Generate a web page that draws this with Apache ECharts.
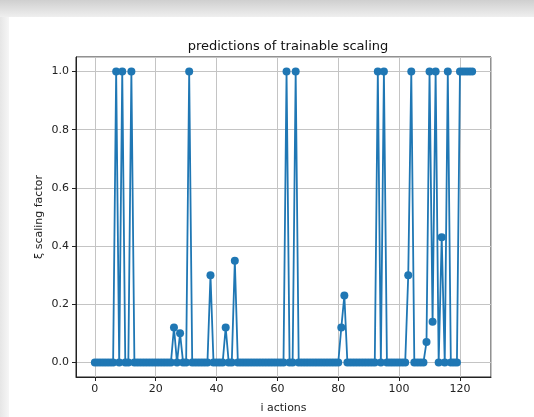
<!DOCTYPE html>
<html>
<head>
<meta charset="utf-8">
<script src="https://cdn.jsdelivr.net/npm/echarts@6/dist/echarts.min.js"></script>
<style>
  html, body { margin: 0; padding: 0; background: #fff; }
  #chart { width: 534px; height: 417px; }
</style>
</head>
<body>
<div id="chart"></div>
<script>
// predicted scaling factor for each action, index = action number
var scaling = [
  0, 0, 0, 0, 0, 0, 0, 1, 0, 1,          // 0-9
  0, 0, 1, 0, 0, 0, 0, 0, 0, 0,          // 10-19
  0, 0, 0, 0, 0, 0, 0.12, 0, 0.10, 0,    // 20-29
  0, 1, 0, 0, 0, 0, 0, 0, 0.30, 0,       // 30-39
  0, 0, 0, 0.12, 0, 0, 0.35, 0, 0, 0,    // 40-49
  0, 0, 0, 0, 0, 0, 0, 0, 0, 0,          // 50-59
  0, 0, 0, 1, 0, 0, 1, 0, 0, 0,          // 60-69
  0, 0, 0, 0, 0, 0, 0, 0, 0, 0,          // 70-79
  0, 0.12, 0.23, 0, 0, 0, 0, 0, 0, 0,    // 80-89
  0, 0, 0, 1, 0, 1, 0, 0, 0, 0,          // 90-99
  0, 0, 0, 0.30, 1, 0, 0, 0, 0, 0.07,    // 100-109
  1, 0.14, 1, 0, 0.43, 0, 1, 0, 0, 0,    // 110-119
  1, 1, 1, 1, 1                          // 120-124
]
var xTicks = [0, 20, 40, 60, 80, 100, 120]
var yTicks = [0.0, 0.2, 0.4, 0.6, 0.8, 1.0]

var points = scaling.map(function (v, i) { return [i, v] })

var chart = echarts.init(document.getElementById('chart'))
var labelFont = 'DejaVu Sans'

chart.setOption({
  backgroundColor: '#fff',
  animation: false,
  graphic: [
    {
      type: 'rect',
      shape: { x: 0, y: 0, width: 534, height: 17 },
      style: {
        fill: new echarts.graphic.LinearGradient(0, 0, 0, 1, [
          { offset: 0, color: '#cfcfcf' },
          { offset: 1, color: '#efefef' }
        ])
      },
      z: -10
    },
    {
      type: 'rect',
      shape: { x: 0, y: 17, width: 9, height: 400 },
      style: {
        fill: new echarts.graphic.LinearGradient(0, 0, 1, 0, [
          { offset: 0, color: '#e6e6e6' },
          { offset: 1, color: '#f6f6f6' }
        ])
      },
      z: -10
    }
  ],
  title: {
    text: 'predictions of trainable scaling',
    left: 283,
    textAlign: 'center',
    top: 35,
    textStyle: {
      fontFamily: labelFont,
      fontSize: 13,
      fontWeight: 'normal',
      color: '#111'
    }
  },
  grid: {
    left: 76,
    right: 43,
    top: 57,
    bottom: 40,
    outerBoundsMode: 'none',
    show: true,
    borderColor: '#222',
    borderWidth: 1,
    backgroundColor: 'transparent'
  },
  xAxis: {
    type: 'value',
    min: -6.2,
    max: 130.2,
    splitNumber: 7,
    name: 'i actions',
    nameLocation: 'middle',
    nameGap: 26,
    nameMoveOverlap: false,
    nameTextStyle: { fontFamily: labelFont, fontSize: 11, color: '#222' },
    axisLine: { show: true, onZero: false, lineStyle: { color: '#222' } },
    axisTick: { show: true, inside: false, length: 4, lineStyle: { color: '#222' } },
    axisLabel: {
      showMinLabel: false,
      showMaxLabel: false,
      margin: 7,
      fontFamily: labelFont,
      fontSize: 11,
      color: '#222',
      formatter: function (v) { return xTicks.indexOf(v) >= 0 ? String(v) : '' }
    },
    splitLine: { show: true, lineStyle: { color: '#c4c4c4', width: 1 } }
  },
  yAxis: {
    type: 'value',
    min: -0.05,
    max: 1.05,
    splitNumber: 5,
    name: 'ξ scaling factor',
    nameLocation: 'middle',
    nameGap: 31,
    nameMoveOverlap: false,
    nameRotate: 90,
    nameTextStyle: { fontFamily: labelFont, fontSize: 11, color: '#222' },
    axisLine: { show: true, onZero: false, lineStyle: { color: '#222' } },
    axisTick: { show: true, inside: false, length: 4, lineStyle: { color: '#222' } },
    axisLabel: {
      showMinLabel: false,
      showMaxLabel: false,
      margin: 7,
      fontFamily: labelFont,
      fontSize: 11,
      color: '#222',
      formatter: function (v) {
        var r = Math.round(v * 10) / 10
        return yTicks.indexOf(r) >= 0 && Math.abs(v - r) < 1e-9 ? r.toFixed(1) : ''
      }
    },
    splitLine: { show: true, lineStyle: { color: '#c4c4c4', width: 1 } }
  },
  series: [{
    type: 'line',
    data: points,
    symbol: 'circle',
    symbolSize: 8,
    showAllSymbol: true,
    lineStyle: { color: '#1f77b4', width: 1.8 },
    itemStyle: { color: '#1f77b4' },
    z: 5
  }]
})
</script>
</body>
</html>
